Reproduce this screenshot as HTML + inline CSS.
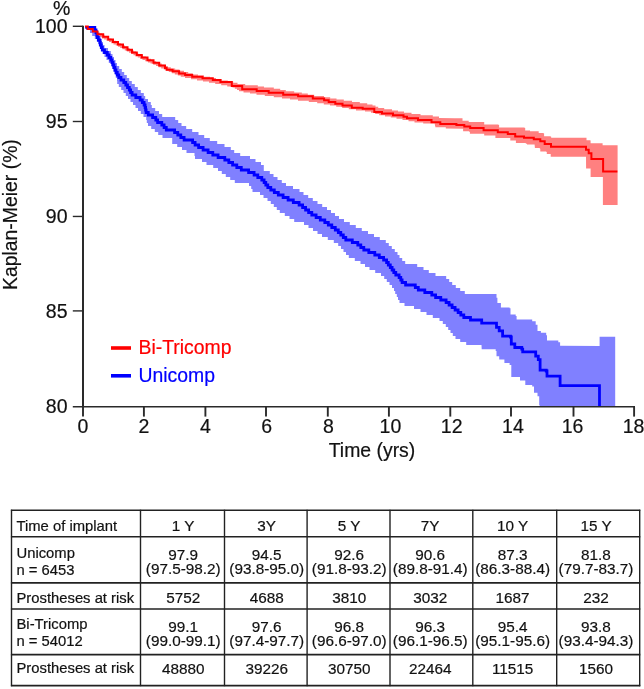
<!DOCTYPE html>
<html><head><meta charset="utf-8"><style>
html,body{margin:0;padding:0;background:#fff;}
body{width:644px;height:689px;overflow:hidden;}
svg{display:block;will-change:transform;}
text{font-family:"Liberation Sans",sans-serif;fill:#111;stroke:#111;stroke-width:0.2px;}
.tk{font-size:19.5px;}
.lab{font-size:19.4px;}
.tb{font-size:14.8px;}
.tn{font-size:15.3px;}
</style></head><body>
<svg width="644" height="689" viewBox="0 0 644 689">
<polygon points="85.0,26.0 87.2,26.0 87.2,27.6 89.8,27.6 89.8,28.8 92.2,28.8 92.2,30.0 94.8,30.0 94.8,31.2 97.2,31.2 97.2,32.4 99.8,32.4 99.8,33.6 102.0,33.6 102.0,34.8 104.5,34.8 104.5,36.0 106.8,36.0 106.8,37.2 109.0,37.2 109.0,38.4 111.5,38.4 111.5,39.6 113.8,39.6 113.8,40.8 116.0,40.8 116.0,42.0 118.5,42.0 118.5,43.2 120.8,43.2 120.8,44.4 122.8,44.4 122.8,45.6 125.0,45.6 125.0,46.8 127.2,46.8 127.2,48.0 129.5,48.0 129.5,49.2 131.5,49.2 131.5,50.4 133.8,50.4 133.8,51.6 136.0,51.6 136.0,52.8 138.2,52.8 138.2,54.0 140.2,54.0 140.2,55.2 143.0,55.2 143.0,56.4 145.8,56.4 145.8,57.6 148.2,57.6 148.2,58.8 151.0,58.8 151.0,60.0 153.8,60.0 153.8,61.2 156.2,61.2 156.2,62.4 159.0,62.4 159.0,63.6 161.8,63.6 161.8,64.8 164.8,64.8 164.8,66.0 167.8,66.0 167.8,67.2 170.8,67.2 170.8,68.4 175.2,68.4 175.2,69.6 179.5,69.6 179.5,70.8 184.0,70.8 184.0,72.0 188.2,72.0 188.2,73.2 192.8,73.2 192.8,74.4 198.0,74.4 198.0,75.6 204.0,75.6 204.0,76.8 210.0,76.8 210.0,78.0 216.0,78.0 216.0,79.2 222.0,79.2 222.0,80.4 227.8,80.4 227.8,81.6 233.2,81.6 233.2,82.8 237.5,82.8 237.5,84.0 245.2,84.0 245.2,85.2 257.8,85.2 257.8,86.4 264.0,86.4 264.0,87.6 273.8,87.6 273.8,88.8 280.2,88.8 280.2,90.0 285.8,90.0 285.8,91.2 294.2,91.2 294.2,92.4 301.8,92.4 301.8,93.6 307.8,93.6 307.8,94.8 314.2,94.8 314.2,96.0 324.0,96.0 324.0,97.2 330.2,97.2 330.2,98.4 336.5,98.4 336.5,99.6 343.8,99.6 343.8,100.8 352.0,100.8 352.0,102.0 359.8,102.0 359.8,103.2 367.2,103.2 367.2,104.4 372.5,104.4 372.5,105.6 375.5,105.6 375.5,106.8 378.2,106.8 378.2,108.0 384.2,108.0 384.2,109.2 392.0,109.2 392.0,110.4 398.0,110.4 398.0,111.6 404.0,111.6 404.0,112.8 411.5,112.8 411.5,114.0 420.5,114.0 420.5,115.2 432.8,115.2 432.8,116.4 438.5,116.4 439.0,116.4 439.0,118.0 455.0,118.2 461.8,118.2 462.5,118.2 462.5,120.7 468.7,120.7 468.7,121.9 483.6,121.9 484.2,121.9 484.2,124.4 498.5,124.4 498.5,125.0 499.1,125.0 499.1,127.5 524.6,127.5 524.6,128.1 525.2,128.1 525.2,130.6 530.0,130.6 530.0,131.3 538.2,131.3 538.7,131.3 538.7,132.9 543.6,132.9 543.6,133.4 544.1,133.4 544.1,136.2 550.7,136.2 550.7,136.7 551.2,136.7 551.2,137.8 586.0,137.8 586.5,137.8 586.5,140.2 590.3,140.2 590.3,140.5 590.6,140.5 590.6,143.3 602.3,143.3 602.6,143.3 602.6,145.2 617.6,145.2 617.6,205.0 602.9,205.0 602.9,177.1 590.6,177.1 590.6,168.6 586.1,168.6 586.0,156.8 550.7,156.8 550.7,154.6 550.7,154.1 546.8,154.1 546.8,151.9 546.3,151.9 546.3,151.4 540.3,151.4 540.3,148.7 539.8,148.7 539.8,148.1 534.9,148.1 534.6,144.5 527.0,144.5 527.0,143.7 525.8,143.7 525.8,143.1 515.9,143.1 515.9,141.2 515.9,140.6 510.3,140.6 510.3,138.1 509.7,138.1 495.4,138.1 495.4,135.6 494.8,135.6 484.2,135.6 484.2,133.7 483.6,133.7 469.9,133.7 469.9,131.9 469.3,131.9 469.3,131.3 463.1,131.3 463.1,128.8 462.5,128.8 445.8,128.6 445.8,127.3 435.3,127.3 435.3,126.0 435.0,126.0 435.0,126.0 435.0,124.8 434.8,124.8 434.8,123.6 423.2,123.6 423.2,122.4 414.5,122.4 414.5,121.2 408.5,121.2 408.5,120.0 402.5,120.0 402.5,118.8 396.5,118.8 396.5,117.6 390.8,117.6 390.8,116.4 385.0,116.4 385.0,115.2 379.2,115.2 379.2,114.0 375.2,114.0 375.2,112.8 371.0,112.8 371.0,111.6 365.0,111.6 365.0,110.4 356.0,110.4 356.0,109.2 348.8,109.2 348.8,108.0 342.2,108.0 342.2,106.8 336.2,106.8 336.2,105.6 330.0,105.6 330.0,104.4 323.8,104.4 323.8,103.2 317.2,103.2 317.2,102.0 308.8,102.0 308.8,100.8 298.0,100.8 298.0,99.6 290.0,99.6 290.0,98.4 282.0,98.4 282.0,97.2 273.8,97.2 273.8,96.0 264.8,96.0 264.8,94.8 256.5,94.8 256.5,93.6 250.0,93.6 250.0,92.4 243.5,92.4 243.5,91.2 239.0,91.2 239.0,90.0 237.0,90.0 237.0,88.8 234.8,88.8 234.8,87.6 232.5,87.6 232.5,86.4 227.2,86.4 227.2,85.2 221.2,85.2 221.2,84.0 215.2,84.0 215.2,82.8 209.0,82.8 209.0,81.6 203.0,81.6 203.0,80.4 197.0,80.4 197.0,79.2 191.0,79.2 191.0,78.0 185.0,78.0 185.0,76.8 180.8,76.8 180.8,75.6 177.8,75.6 177.8,74.4 174.8,74.4 174.8,73.2 171.8,73.2 171.8,72.0 168.8,72.0 168.8,70.8 166.2,70.8 166.2,69.6 163.8,69.6 163.8,68.4 161.2,68.4 161.2,67.2 158.5,67.2 158.5,66.0 156.0,66.0 156.0,64.8 153.2,64.8 153.2,63.6 150.5,63.6 150.5,62.4 148.0,62.4 148.0,61.2 145.2,61.2 145.2,60.0 142.5,60.0 142.5,58.8 140.0,58.8 140.0,57.6 137.8,57.6 137.8,56.4 135.5,56.4 135.5,55.2 133.5,55.2 133.5,54.0 131.2,54.0 131.2,52.8 129.0,52.8 129.0,51.6 126.8,51.6 126.8,50.4 124.8,50.4 124.8,49.2 122.5,49.2 122.5,48.0 120.2,48.0 120.2,46.8 118.0,46.8 118.0,45.6 115.8,45.6 115.8,44.4 113.5,44.4 113.5,43.2 111.2,43.2 111.2,42.0 109.0,42.0 109.0,40.8 106.5,40.8 106.5,39.6 104.2,39.6 104.2,38.4 102.0,38.4 102.0,37.2 99.8,37.2 99.8,36.0 97.8,36.0 97.8,34.8 96.0,34.8 96.0,33.6 94.0,33.6 94.0,32.4 92.0,32.4 92.0,31.2 90.0,31.2 90.0,30.0 88.0,30.0 88.0,28.8 86.0,28.8 86.0,27.6 85.0,27.6" fill="#ff8080" stroke="none"/>
<polygon points="85.0,26.8 95.5,26.8 95.5,30.0 98.0,30.0 98.0,33.0 99.2,33.0 99.2,36.0 100.5,36.0 100.5,39.0 101.8,39.0 101.8,42.0 103.0,42.0 103.0,45.0 104.5,45.0 104.5,48.0 108.0,48.0 108.0,51.0 110.8,51.0 110.8,54.0 112.5,54.0 112.5,57.0 114.0,57.0 114.0,60.0 115.5,60.0 115.5,63.0 117.0,63.0 117.0,66.0 119.2,66.0 119.2,69.0 121.8,69.0 121.8,72.0 124.2,72.0 124.2,75.0 126.8,75.0 126.8,78.0 129.2,78.0 129.2,81.0 131.8,81.0 131.8,84.0 134.8,84.0 134.8,87.0 137.8,87.0 137.8,90.0 140.8,90.0 140.8,93.0 143.8,93.0 143.8,96.0 145.2,96.0 145.2,99.0 148.0,99.0 148.0,102.0 150.8,102.0 150.8,105.0 151.8,105.0 151.8,108.0 155.2,108.0 155.2,111.0 159.0,111.0 159.0,114.0 162.2,114.0 162.2,117.0 175.2,117.0 175.2,120.0 178.2,120.0 178.2,123.0 181.5,123.0 181.5,126.0 186.2,126.0 186.2,129.0 192.2,129.0 192.2,132.0 198.5,132.0 198.5,135.0 204.2,135.0 204.2,138.0 209.8,138.0 209.8,141.0 217.2,141.0 217.2,144.0 224.5,144.0 224.5,147.0 230.8,147.0 230.8,150.0 234.2,150.0 234.2,153.0 240.2,153.0 240.2,156.0 250.0,156.0 250.0,159.0 255.5,159.0 255.5,162.0 261.0,162.0 261.0,165.0 263.8,165.0 263.8,171.0 269.8,171.0 269.8,174.0 273.5,174.0 273.5,177.0 277.5,177.0 277.5,180.0 281.8,180.0 281.8,183.0 286.0,183.0 286.0,186.0 293.0,186.0 293.0,189.0 299.5,189.0 299.5,192.0 303.5,192.0 303.5,195.0 308.2,195.0 308.2,198.0 312.8,198.0 312.8,201.0 317.5,201.0 317.5,204.0 322.2,204.0 322.2,207.0 327.0,207.0 327.0,210.0 331.0,210.0 331.0,213.0 335.0,213.0 335.0,216.0 339.0,216.0 339.0,219.0 344.0,219.0 344.0,222.0 349.8,222.0 349.8,225.0 355.8,225.0 355.8,228.0 361.8,228.0 361.8,231.0 368.0,231.0 368.0,234.0 374.0,234.0 374.0,237.0 379.8,237.0 379.8,240.0 385.8,240.0 385.8,243.0 388.8,243.0 388.8,246.0 391.8,246.0 391.8,249.0 394.8,249.0 394.8,252.0 397.5,252.0 397.5,255.0 399.5,255.0 399.5,258.0 402.2,258.0 402.2,261.0 405.2,261.0 405.2,264.0 417.2,264.0 417.2,267.0 423.5,267.0 423.5,270.0 428.8,270.0 428.8,273.0 435.5,273.0 435.5,276.0 446.2,276.0 446.2,279.0 449.2,279.0 449.2,282.0 452.2,282.0 452.2,285.0 455.8,285.0 455.8,288.0 460.2,288.0 460.2,291.0 464.8,291.0 464.8,294.0 478.0,294.0 480.0,294.0 496.5,294.0 496.5,297.8 497.4,297.8 497.4,303.1 500.9,303.1 500.9,307.4 509.6,307.4 509.6,308.3 510.5,308.3 510.5,314.4 515.7,314.4 515.7,316.1 516.6,316.1 516.6,319.6 532.2,319.6 532.2,321.3 535.7,321.3 535.7,324.8 537.5,324.8 537.5,330.9 540.9,330.9 540.9,332.7 546.2,332.7 546.2,335.3 547.0,335.3 547.0,340.5 558.3,340.5 558.3,342.2 560.1,342.2 560.1,345.7 599.6,345.9 599.6,336.7 615.2,336.7 615.2,406.6 539.6,406.6 539.6,404.9 539.2,404.9 539.2,396.2 537.5,396.2 537.5,392.7 534.0,392.7 534.0,386.6 532.2,386.6 532.2,384.9 525.3,384.9 525.3,380.5 520.0,380.5 520.0,377.0 511.3,377.0 511.3,364.9 509.6,364.9 509.6,363.1 504.4,363.1 504.4,359.6 499.2,359.6 499.2,356.2 496.5,356.2 496.5,350.9 495.7,350.9 495.7,349.2 481.7,349.2 481.5,345.0 478.0,345.0 466.2,345.0 466.2,342.0 460.2,342.0 460.2,339.0 455.5,339.0 455.5,336.0 452.8,336.0 452.8,333.0 450.5,333.0 450.5,330.0 448.2,330.0 448.2,327.0 445.8,327.0 445.8,324.0 442.8,324.0 442.8,321.0 439.5,321.0 439.5,318.0 432.8,318.0 432.8,315.0 426.5,315.0 426.5,312.0 420.5,312.0 420.5,309.0 414.0,309.0 414.0,306.0 404.5,306.0 404.5,303.0 399.5,303.0 399.5,300.0 398.0,300.0 398.0,297.0 396.8,297.0 396.8,294.0 395.2,294.0 395.2,291.0 394.0,291.0 394.0,288.0 392.0,288.0 392.0,285.0 389.5,285.0 389.5,282.0 386.8,282.0 386.8,279.0 384.2,279.0 384.2,276.0 381.0,276.0 381.0,273.0 375.2,273.0 375.2,270.0 369.5,270.0 369.5,267.0 365.0,267.0 365.0,264.0 360.5,264.0 360.5,261.0 354.8,261.0 354.8,258.0 348.8,258.0 348.8,255.0 346.0,255.0 346.0,252.0 343.5,252.0 343.5,249.0 341.0,249.0 341.0,246.0 338.2,246.0 338.2,243.0 333.8,243.0 333.8,240.0 327.8,240.0 327.8,237.0 322.0,237.0 322.0,234.0 317.5,234.0 317.5,231.0 313.0,231.0 313.0,228.0 308.5,228.0 308.5,225.0 304.0,225.0 304.0,222.0 294.2,222.0 294.2,219.0 289.5,219.0 289.5,216.0 284.8,216.0 284.8,213.0 279.8,213.0 279.8,210.0 276.8,210.0 276.8,207.0 273.8,207.0 273.8,204.0 270.8,204.0 270.8,201.0 267.5,201.0 267.5,198.0 263.5,198.0 263.5,195.0 260.0,195.0 260.0,192.0 252.5,192.0 252.5,189.0 251.2,189.0 251.2,186.0 249.0,186.0 249.0,183.0 234.8,183.0 234.8,180.0 230.2,180.0 230.2,177.0 225.8,177.0 225.8,174.0 221.8,174.0 221.8,171.0 218.0,171.0 218.0,168.0 213.2,168.0 213.2,165.0 206.5,165.0 206.5,162.0 202.0,162.0 202.0,159.0 195.0,159.0 195.0,156.0 194.5,156.0 194.5,153.0 186.5,153.0 186.5,150.0 182.0,150.0 182.0,147.0 177.2,147.0 177.2,144.0 172.2,144.0 172.2,138.0 162.5,138.0 162.5,135.0 158.2,135.0 158.2,132.0 154.8,132.0 154.8,129.0 151.2,129.0 151.2,126.0 148.0,126.0 148.0,123.0 146.8,123.0 146.8,120.0 146.2,120.0 146.2,117.0 143.5,117.0 143.5,114.0 140.8,114.0 140.8,111.0 138.0,111.0 138.0,108.0 135.5,108.0 135.5,105.0 133.0,105.0 133.0,102.0 130.5,102.0 130.5,99.0 128.0,99.0 128.0,96.0 125.8,96.0 125.8,93.0 123.5,93.0 123.5,90.0 121.2,90.0 121.2,87.0 118.8,87.0 118.8,84.0 117.2,84.0 117.2,81.0 117.0,81.0 117.0,78.0 115.8,78.0 115.8,75.0 114.8,75.0 114.8,72.0 113.5,72.0 113.5,69.0 112.2,69.0 112.2,66.0 111.0,66.0 111.0,63.0 108.8,63.0 108.8,60.0 106.5,60.0 106.5,57.0 104.5,57.0 104.5,54.0 102.5,54.0 102.5,51.0 101.2,51.0 101.2,48.0 100.0,48.0 100.0,45.0 98.8,45.0 98.8,42.0 97.0,42.0 97.0,39.0 94.8,39.0 94.8,36.0 92.2,36.0 92.2,33.0 90.0,33.0 90.0,30.0 86.0,30.0 86.0,28.2 85.0,28.2" fill="#8080ff" stroke="none"/>
<polyline points="85.3,27.4 94.8,27.4 94.8,30.0 96.0,30.0 96.0,32.5 96.8,32.5 96.8,35.0 97.3,35.0 97.3,37.5 98.3,37.5 98.3,40.0 99.8,40.0 99.8,42.5 100.3,42.5 100.3,45.0 101.3,45.0 101.3,47.5 102.3,47.5 102.3,50.0 104.5,50.0 104.5,52.5 107.3,52.5 107.3,55.0 109.0,55.0 109.0,57.5 110.8,57.5 110.8,60.0 112.0,60.0 112.0,62.5 113.0,62.5 113.0,65.0 114.0,65.0 114.0,67.5 115.0,67.5 115.0,70.0 116.0,70.0 116.0,72.5 117.3,72.5 117.3,75.0 118.8,75.0 118.8,77.5 121.0,77.5 121.0,80.0 123.8,80.0 123.8,82.5 125.8,82.5 125.8,85.0 127.5,85.0 127.5,87.5 129.3,87.5 129.3,90.0 130.6,90.0 130.6,92.5 132.1,92.5 132.1,95.0 135.8,95.0 135.8,97.5 140.1,97.5 140.1,100.0 142.3,100.0 142.3,102.5 144.1,102.5 144.1,105.0 145.1,105.0 145.1,107.5 145.6,107.5 145.6,110.0 146.1,110.0 146.1,112.5 148.3,112.5 148.3,115.0 152.6,115.0 152.6,117.5 155.8,117.5 155.8,120.0 157.6,120.0 157.6,122.5 161.8,122.5 161.8,125.0 164.1,125.0 164.1,127.5 166.3,127.5 166.3,130.0 174.6,130.0 174.6,132.5 177.8,132.5 177.8,135.0 180.8,135.0 180.8,137.5 184.1,137.5 184.1,140.0 192.6,140.0 192.6,142.5 195.1,142.5 195.1,145.0 198.6,145.0 198.6,147.5 203.1,147.5 203.1,150.0 208.1,150.0 208.1,152.5 212.8,152.5 212.8,155.0 218.1,155.0 218.1,157.5 224.8,157.5 224.8,160.0 228.8,160.0 228.8,162.5 232.6,162.5 232.6,165.0 236.8,165.0 236.8,167.5 241.3,167.5 241.3,170.0 248.6,170.0 248.6,172.5 254.1,172.5 254.1,175.0 257.8,175.0 257.8,177.5 261.8,177.5 261.8,180.0 264.1,180.0 264.1,182.5 265.8,182.5 265.8,185.0 267.8,185.0 267.8,187.5 270.8,187.5 270.8,190.0 274.3,190.0 274.3,192.5 278.3,192.5 278.3,195.0 283.1,195.0 283.1,197.5 288.1,197.5 288.1,200.0 293.3,200.0 293.3,202.5 299.1,202.5 299.1,205.0 302.6,205.0 302.6,207.5 305.6,207.5 305.6,210.0 308.6,210.0 308.6,212.5 311.8,212.5 311.8,215.0 316.1,215.0 316.1,217.5 320.3,217.5 320.3,220.0 324.8,220.0 324.8,222.5 328.3,222.5 328.3,225.0 331.8,225.0 331.8,227.5 335.3,227.5 335.3,230.0 338.3,230.0 338.3,232.5 340.8,232.5 340.8,235.0 343.3,235.0 343.3,237.5 345.8,237.5 345.8,240.0 352.3,240.0 352.3,242.5 357.8,242.5 357.8,245.0 360.8,245.0 360.8,247.5 363.8,247.5 363.8,250.0 368.8,250.0 368.8,252.5 374.8,252.5 374.8,255.0 379.3,255.0 379.3,257.5 383.6,257.5 383.6,260.0 386.6,260.0 386.6,262.5 388.3,262.5 388.3,265.0 390.3,265.0 390.3,267.5 392.1,267.5 392.1,270.0 393.8,270.0 393.8,272.5 395.8,272.5 395.8,275.0 399.1,275.0 399.1,277.5 400.8,277.5 400.8,280.0 402.1,280.0 402.1,282.5 405.6,282.5 405.6,285.0 415.3,285.0 415.3,287.5 418.3,287.5 418.3,290.0 424.8,290.0 424.8,292.5 431.8,292.5 431.8,295.0 435.6,295.0 435.6,297.5 440.8,297.5 440.8,300.0 446.1,300.0 446.1,302.5 449.1,302.5 449.1,305.0 452.1,305.0 452.1,307.5 455.1,307.5 455.1,310.0 458.1,310.0 458.1,312.5 460.8,312.5 460.8,315.0 463.8,315.0 463.8,317.5 470.5,317.5 470.5,320.0 470.5,320.0 470.8,320.0 481.7,320.0 481.7,323.1 495.7,323.1 496.5,323.1 496.5,327.4 499.2,327.4 499.2,330.9 502.6,330.9 502.6,336.1 510.5,336.1 510.5,337.0 511.3,337.0 511.3,344.0 514.8,344.0 514.8,347.5 521.8,347.5 521.8,349.2 522.7,349.2 522.7,351.8 534.8,351.8 535.7,351.8 535.7,356.2 538.3,356.2 538.3,359.6 540.1,359.6 540.1,370.1 546.2,370.1 546.2,371.0 547.0,371.0 547.0,376.2 560.1,376.2 560.1,377.0 560.1,385.7 599.5,385.7 599.5,406.0" fill="none" stroke="#0000ff" stroke-width="2.8" stroke-linejoin="miter"/>
<polyline points="85.0,26.6 87.8,26.6 87.8,29.0 92.8,29.0 92.8,31.6 97.5,31.6 97.5,34.2 103.2,34.2 103.2,36.8 108.2,36.8 108.2,39.4 113.0,39.4 113.0,42.0 118.0,42.0 118.0,44.6 123.0,44.6 123.0,47.2 127.5,47.2 127.5,49.8 132.0,49.8 132.0,52.4 136.8,52.4 136.8,55.0 141.8,55.0 141.8,57.6 147.5,57.6 147.5,60.2 153.5,60.2 153.5,62.8 159.2,62.8 159.2,65.4 165.0,65.4 165.0,68.0 166.6,68.0 166.6,69.8 172.6,69.8 172.6,71.2 179.1,71.2 179.1,73.4 185.1,73.4 185.1,75.0 192.2,75.0 192.2,76.7 202.5,76.7 202.5,78.3 212.8,78.3 212.8,79.9 220.4,79.9 220.4,81.9 231.8,81.9 231.8,85.9 242.2,85.9 242.2,89.3 256.7,89.3 256.7,91.0 268.7,91.0 268.7,92.7 283.2,92.7 283.2,94.7 298.1,94.7 298.1,96.2 312.8,96.2 312.8,98.5 324.1,98.5 324.1,100.3 328.7,100.3 328.7,102.1 335.3,102.1 335.3,103.8 342.5,103.8 342.5,105.6 351.8,105.6 351.8,107.7 362.7,107.7 362.7,108.7 374.3,108.7 374.3,111.9 382.0,111.9 382.0,113.5 393.0,113.5 393.0,115.3 403.5,115.3 403.5,116.8 407.0,116.8 407.0,118.3 418.0,118.3 418.0,120.0 431.5,120.0 431.5,122.3 440.3,122.3 440.3,124.0 456.4,124.0 456.4,125.1 464.3,125.1 464.3,126.6 470.2,126.6 470.2,128.1 483.6,128.1 483.6,130.3 497.8,130.3 497.8,132.2 507.8,132.2 507.8,134.0 515.2,134.0 515.2,136.5 524.0,136.5 524.0,137.7 533.8,137.7 533.8,139.2 540.3,139.2 540.3,141.3 544.7,141.3 544.7,144.0 551.0,144.0 551.0,146.7 586.0,146.7 586.0,149.7 588.7,149.7 588.7,153.3 591.4,153.3 591.4,158.9 603.1,158.9 603.1,171.5 617.4,171.5" fill="none" stroke="#ff0000" stroke-width="2" stroke-linejoin="miter"/>
<line x1="83.0" y1="25.7" x2="83.0" y2="407.40000000000003" stroke="#2a2a2a" stroke-width="2"/>
<line x1="72.8" y1="406.7" x2="635" y2="406.7" stroke="#2a2a2a" stroke-width="1.6"/>
<line x1="72.8" y1="26.30" x2="83.0" y2="26.30" stroke="#2a2a2a" stroke-width="1.4"/>
<line x1="72.8" y1="121.50" x2="83.0" y2="121.50" stroke="#2a2a2a" stroke-width="1.4"/>
<line x1="72.8" y1="216.45" x2="83.0" y2="216.45" stroke="#2a2a2a" stroke-width="1.4"/>
<line x1="72.8" y1="310.90" x2="83.0" y2="310.90" stroke="#2a2a2a" stroke-width="1.4"/>
<line x1="83.0" y1="406.6" x2="83.0" y2="416.6" stroke="#2a2a2a" stroke-width="1.9"/>
<line x1="143.9" y1="406.6" x2="143.9" y2="416.6" stroke="#2a2a2a" stroke-width="1.9"/>
<line x1="205.4" y1="406.6" x2="205.4" y2="416.6" stroke="#2a2a2a" stroke-width="1.9"/>
<line x1="266.0" y1="406.6" x2="266.0" y2="416.6" stroke="#2a2a2a" stroke-width="1.9"/>
<line x1="327.8" y1="406.6" x2="327.8" y2="416.6" stroke="#2a2a2a" stroke-width="1.9"/>
<line x1="388.9" y1="406.6" x2="388.9" y2="416.6" stroke="#2a2a2a" stroke-width="1.9"/>
<line x1="450.3" y1="406.6" x2="450.3" y2="416.6" stroke="#2a2a2a" stroke-width="1.9"/>
<line x1="511.0" y1="406.6" x2="511.0" y2="416.6" stroke="#2a2a2a" stroke-width="1.9"/>
<line x1="573.5" y1="406.6" x2="573.5" y2="416.6" stroke="#2a2a2a" stroke-width="1.9"/>
<line x1="634.1" y1="406.6" x2="634.1" y2="416.6" stroke="#2a2a2a" stroke-width="1.9"/>
<text x="67.5" y="32.8" text-anchor="end" class="tk">100</text>
<text x="67.5" y="127.9" text-anchor="end" class="tk">95</text>
<text x="67.5" y="223.0" text-anchor="end" class="tk">90</text>
<text x="67.5" y="318.0" text-anchor="end" class="tk">85</text>
<text x="67.5" y="413.1" text-anchor="end" class="tk">80</text>
<text x="83.0" y="433" text-anchor="middle" class="tk">0</text>
<text x="143.9" y="433" text-anchor="middle" class="tk">2</text>
<text x="205.4" y="433" text-anchor="middle" class="tk">4</text>
<text x="266.7" y="433" text-anchor="middle" class="tk">6</text>
<text x="328.4" y="433" text-anchor="middle" class="tk">8</text>
<text x="390.4" y="433" text-anchor="middle" class="tk">10</text>
<text x="451.7" y="433" text-anchor="middle" class="tk">12</text>
<text x="512.9" y="433" text-anchor="middle" class="tk">14</text>
<text x="572.6" y="433" text-anchor="middle" class="tk">16</text>
<text x="633.6" y="433" text-anchor="middle" class="tk">18</text>
<text x="53" y="15" class="tk">%</text>
<text x="372" y="457.3" text-anchor="middle" class="lab">Time (yrs)</text>
<text transform="translate(16.5,214.6) rotate(-90)" text-anchor="middle" class="lab">Kaplan-Meier (%)</text>
<line x1="111" y1="348" x2="131" y2="348" stroke="#ff0000" stroke-width="3.6"/>
<line x1="111" y1="375.8" x2="131" y2="375.8" stroke="#0000ff" stroke-width="3.6"/>
<text x="138.5" y="354" class="lab" style="fill:#ff0000;stroke:#ff0000">Bi-Tricomp</text>
<text x="138.5" y="381.8" class="lab" style="fill:#0000ff;stroke:#0000ff">Unicomp</text>
<line x1="11.5" y1="509.7" x2="11.5" y2="686.2" stroke="#222" stroke-width="1.4"/>
<line x1="140.5" y1="509.7" x2="140.5" y2="686.2" stroke="#222" stroke-width="1.4"/>
<line x1="224.5" y1="509.7" x2="224.5" y2="686.2" stroke="#222" stroke-width="1.4"/>
<line x1="307.1" y1="509.7" x2="307.1" y2="686.2" stroke="#222" stroke-width="1.4"/>
<line x1="390.0" y1="509.7" x2="390.0" y2="686.2" stroke="#222" stroke-width="1.4"/>
<line x1="472.8" y1="509.7" x2="472.8" y2="686.2" stroke="#222" stroke-width="1.4"/>
<line x1="556.7" y1="509.7" x2="556.7" y2="686.2" stroke="#222" stroke-width="1.4"/>
<line x1="639.7" y1="509.7" x2="639.7" y2="686.2" stroke="#222" stroke-width="1.4"/>
<line x1="10.9" y1="510.3" x2="640.3000000000001" y2="510.3" stroke="#222" stroke-width="1.6"/>
<line x1="10.9" y1="536.8" x2="640.3000000000001" y2="536.8" stroke="#222" stroke-width="1.6"/>
<line x1="10.9" y1="582.9" x2="640.3000000000001" y2="582.9" stroke="#222" stroke-width="1.6"/>
<line x1="10.9" y1="609.0" x2="640.3000000000001" y2="609.0" stroke="#222" stroke-width="1.6"/>
<line x1="10.9" y1="654.6" x2="640.3000000000001" y2="654.6" stroke="#222" stroke-width="1.6"/>
<line x1="10.9" y1="685.6" x2="640.3000000000001" y2="685.6" stroke="#222" stroke-width="1.6"/>
<text x="16.5" y="531" class="tb">Time of implant</text>
<text x="16.5" y="557.6" class="tb">Unicomp</text>
<text x="16.5" y="574.5" class="tb">n = 6453</text>
<text x="16.5" y="602.9" class="tb">Prostheses at risk</text>
<text x="16.5" y="628.7" class="tb">Bi-Tricomp</text>
<text x="16.5" y="646.4" class="tb">n = 54012</text>
<text x="16.5" y="672.8" class="tb">Prostheses at risk</text>
<text x="183.2" y="531.3" text-anchor="middle" class="tn">1 Y</text>
<text x="183.2" y="560" text-anchor="middle" class="tn">97.9</text>
<text x="183.2" y="574" text-anchor="middle" class="tn">(97.5-98.2)</text>
<text x="183.2" y="602.5" text-anchor="middle" class="tn">5752</text>
<text x="183.2" y="632" text-anchor="middle" class="tn">99.1</text>
<text x="183.2" y="646" text-anchor="middle" class="tn">(99.0-99.1)</text>
<text x="183.2" y="673.5" text-anchor="middle" class="tn">48880</text>
<text x="266.7" y="531.3" text-anchor="middle" class="tn">3Y</text>
<text x="266.7" y="560" text-anchor="middle" class="tn">94.5</text>
<text x="266.7" y="574" text-anchor="middle" class="tn">(93.8-95.0)</text>
<text x="266.7" y="602.5" text-anchor="middle" class="tn">4688</text>
<text x="266.7" y="632" text-anchor="middle" class="tn">97.6</text>
<text x="266.7" y="646" text-anchor="middle" class="tn">(97.4-97.7)</text>
<text x="266.7" y="673.5" text-anchor="middle" class="tn">39226</text>
<text x="349.2" y="531.3" text-anchor="middle" class="tn">5 Y</text>
<text x="349.2" y="560" text-anchor="middle" class="tn">92.6</text>
<text x="349.2" y="574" text-anchor="middle" class="tn">(91.8-93.2)</text>
<text x="349.2" y="602.5" text-anchor="middle" class="tn">3810</text>
<text x="349.2" y="632" text-anchor="middle" class="tn">96.8</text>
<text x="349.2" y="646" text-anchor="middle" class="tn">(96.6-97.0)</text>
<text x="349.2" y="673.5" text-anchor="middle" class="tn">30750</text>
<text x="430.2" y="531.3" text-anchor="middle" class="tn">7Y</text>
<text x="430.2" y="560" text-anchor="middle" class="tn">90.6</text>
<text x="430.2" y="574" text-anchor="middle" class="tn">(89.8-91.4)</text>
<text x="430.2" y="602.5" text-anchor="middle" class="tn">3032</text>
<text x="430.2" y="632" text-anchor="middle" class="tn">96.3</text>
<text x="430.2" y="646" text-anchor="middle" class="tn">(96.1-96.5)</text>
<text x="430.2" y="673.5" text-anchor="middle" class="tn">22464</text>
<text x="512.6" y="531.3" text-anchor="middle" class="tn">10 Y</text>
<text x="512.6" y="560" text-anchor="middle" class="tn">87.3</text>
<text x="512.6" y="574" text-anchor="middle" class="tn">(86.3-88.4)</text>
<text x="512.6" y="602.5" text-anchor="middle" class="tn">1687</text>
<text x="512.6" y="632" text-anchor="middle" class="tn">95.4</text>
<text x="512.6" y="646" text-anchor="middle" class="tn">(95.1-95.6)</text>
<text x="512.6" y="673.5" text-anchor="middle" class="tn">11515</text>
<text x="596.0" y="531.3" text-anchor="middle" class="tn">15 Y</text>
<text x="596.0" y="560" text-anchor="middle" class="tn">81.8</text>
<text x="596.0" y="574" text-anchor="middle" class="tn">(79.7-83.7)</text>
<text x="596.0" y="602.5" text-anchor="middle" class="tn">232</text>
<text x="596.0" y="632" text-anchor="middle" class="tn">93.8</text>
<text x="596.0" y="646" text-anchor="middle" class="tn">(93.4-94.3)</text>
<text x="596.0" y="673.5" text-anchor="middle" class="tn">1560</text>
</svg>
</body></html>
